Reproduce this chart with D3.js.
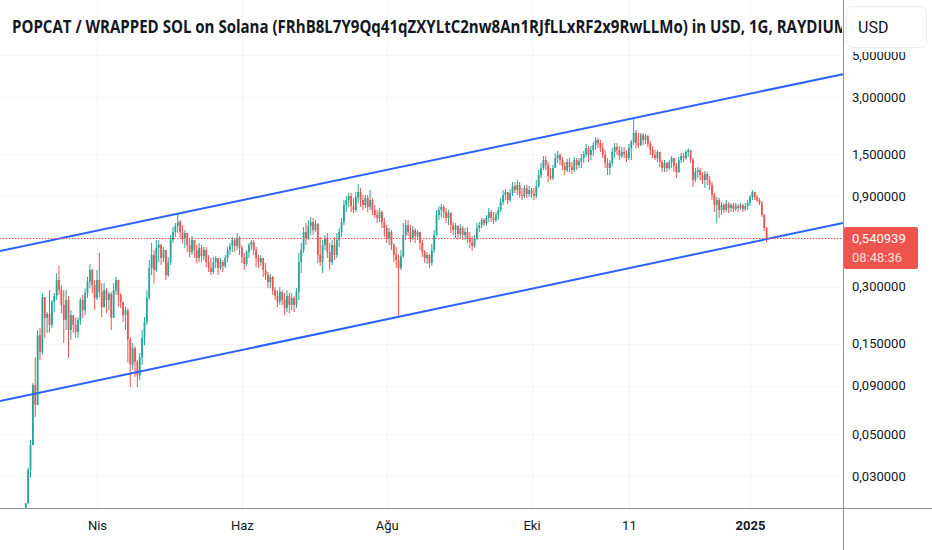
<!DOCTYPE html>
<html>
<head>
<meta charset="utf-8">
<script src="https://cdn.jsdelivr.net/npm/d3@7"></script>
<style>
  body { margin: 0; background: #fff; }
  svg text { font-family: Roboto, "Noto Sans", sans-serif; }
</style>
</head>
<body>
<div id="chart-area"></div>
<script>

// chart data (daily candles, open = previous close)
var chartTitle = "POPCAT / WRAPPED SOL on Solana (FRhB8L7Y9Qq41qZXYLtC2nw8An1RJfLLxRF2x9RwLLMo) in USD, 1G, RAYDIUM";
var firstDay = "2024-03-02";
var firstOpen = 0.0204;

var closes = [
  0.0215, 0.0323, 0.0437, 0.0906, 0.0711, 0.166, 0.135, 0.264, 0.205, 0.215,
  0.188, 0.249, 0.267, 0.325, 0.287, 0.240, 0.200, 0.255, 0.177, 0.212,
  0.188, 0.173, 0.200, 0.255, 0.225, 0.277, 0.317, 0.367, 0.305, 0.261,
  0.325, 0.281, 0.234, 0.287, 0.255, 0.274, 0.205, 0.287, 0.325, 0.271,
  0.249, 0.212, 0.225, 0.157, 0.116, 0.142, 0.120, 0.102, 0.127, 0.161,
  0.195, 0.261, 0.376, 0.440, 0.367, 0.480, 0.497, 0.424, 0.467, 0.345,
  0.404, 0.528, 0.582, 0.626, 0.657, 0.582, 0.541, 0.575, 0.497, 0.456,
  0.528, 0.467, 0.424, 0.480, 0.434, 0.467, 0.404, 0.376, 0.358, 0.404,
  0.424, 0.376, 0.404, 0.385, 0.424, 0.467, 0.491, 0.528, 0.491, 0.541,
  0.480, 0.429, 0.394, 0.456, 0.497, 0.515, 0.467, 0.424, 0.404, 0.424,
  0.367, 0.345, 0.317, 0.337, 0.287, 0.267, 0.249, 0.281, 0.255, 0.231,
  0.267, 0.240, 0.261, 0.240, 0.281, 0.404, 0.467, 0.582, 0.541, 0.626,
  0.657, 0.596, 0.641, 0.440, 0.404, 0.497, 0.541, 0.456, 0.404, 0.497,
  0.440, 0.528, 0.582, 0.657, 0.808, 0.858, 0.901, 0.798, 0.760, 0.890,
  0.946, 0.858, 0.808, 0.880, 0.789, 0.858, 0.760, 0.715, 0.690, 0.742,
  0.657, 0.611, 0.541, 0.582, 0.497, 0.440, 0.414, 0.376, 0.434, 0.561,
  0.633, 0.582, 0.541, 0.596, 0.554, 0.582, 0.509, 0.456, 0.424, 0.440,
  0.399, 0.467, 0.561, 0.715, 0.760, 0.789, 0.742, 0.690, 0.733, 0.633,
  0.596, 0.626, 0.568, 0.611, 0.561, 0.582, 0.541, 0.515, 0.491, 0.541,
  0.611, 0.633, 0.673, 0.649, 0.690, 0.742, 0.690, 0.673, 0.715, 0.760,
  0.838, 0.912, 0.946, 0.858, 0.935, 1.017, 0.969, 1.030, 0.912, 0.901,
  0.993, 0.923, 0.969, 0.923, 0.901, 1.017, 1.163, 1.266, 1.395, 1.313,
  1.149, 1.121, 1.266, 1.430, 1.483, 1.395, 1.297, 1.236, 1.362, 1.281,
  1.236, 1.395, 1.313, 1.378, 1.430, 1.501, 1.614, 1.483, 1.576, 1.674,
  1.779, 1.715, 1.614, 1.483, 1.345, 1.266, 1.345, 1.538, 1.634, 1.576,
  1.465, 1.538, 1.501, 1.430, 1.614, 1.736, 1.937, 1.715, 1.674, 1.890,
  1.779, 1.867, 1.695, 1.576, 1.483, 1.430, 1.538, 1.362, 1.266, 1.345,
  1.266, 1.362, 1.430, 1.297, 1.206, 1.395, 1.465, 1.430, 1.538, 1.576,
  1.395, 1.094, 1.206, 1.236, 1.163, 1.094, 1.177, 1.094, 1.030, 0.912,
  0.808, 0.858, 0.760, 0.808, 0.760, 0.818, 0.779, 0.808, 0.770, 0.798,
  0.779, 0.808, 0.770, 0.798, 0.828, 0.890, 0.946, 0.890, 0.858, 0.828,
  0.715, 0.611, 0.540939
];

var highs = [
  0.0216, 0.0333, 0.0465, 0.0928, 0.127, 0.177, 0.181, 0.277, 0.264, 0.220,
  0.287, 0.255, 0.277, 0.353, 0.385, 0.305, 0.287, 0.287, 0.267, 0.225,
  0.212, 0.205, 0.207, 0.261, 0.271, 0.294, 0.337, 0.394, 0.372, 0.325,
  0.367, 0.451, 0.313, 0.313, 0.294, 0.281, 0.280, 0.313, 0.337, 0.325,
  0.277, 0.249, 0.234, 0.230, 0.163, 0.151, 0.145, 0.123, 0.134, 0.177,
  0.207, 0.287, 0.414, 0.509, 0.467, 0.528, 0.528, 0.505, 0.485, 0.467,
  0.429, 0.561, 0.618, 0.649, 0.733, 0.673, 0.633, 0.596, 0.575, 0.541,
  0.554, 0.528, 0.497, 0.509, 0.497, 0.485, 0.485, 0.440, 0.424, 0.429,
  0.434, 0.424, 0.424, 0.414, 0.440, 0.485, 0.509, 0.548, 0.541, 0.575,
  0.554, 0.497, 0.451, 0.467, 0.509, 0.528, 0.528, 0.485, 0.440, 0.440,
  0.424, 0.399, 0.358, 0.349, 0.341, 0.298, 0.287, 0.298, 0.287, 0.277,
  0.287, 0.277, 0.277, 0.267, 0.294, 0.451, 0.509, 0.618, 0.649, 0.673,
  0.698, 0.690, 0.673, 0.649, 0.548, 0.528, 0.561, 0.575, 0.509, 0.528,
  0.548, 0.575, 0.611, 0.690, 0.858, 0.901, 0.935, 0.935, 0.880, 0.946,
  1.042, 0.993, 0.912, 0.912, 0.912, 0.969, 0.880, 0.808, 0.760, 0.779,
  0.760, 0.690, 0.633, 0.611, 0.596, 0.509, 0.485, 0.440, 0.467, 0.649,
  0.673, 0.673, 0.633, 0.626, 0.611, 0.596, 0.582, 0.528, 0.467, 0.456,
  0.445, 0.503, 0.596, 0.760, 0.798, 0.818, 0.808, 0.779, 0.760, 0.745,
  0.657, 0.649, 0.633, 0.641, 0.626, 0.611, 0.618, 0.582, 0.554, 0.561,
  0.649, 0.657, 0.690, 0.690, 0.715, 0.779, 0.760, 0.742, 0.742, 0.789,
  0.880, 0.969, 0.981, 0.946, 0.981, 1.068, 1.068, 1.094, 1.068, 0.993,
  1.030, 1.030, 1.017, 0.993, 0.993, 1.094, 1.236, 1.345, 1.465, 1.465,
  1.362, 1.266, 1.313, 1.519, 1.557, 1.519, 1.447, 1.362, 1.413, 1.430,
  1.362, 1.447, 1.430, 1.430, 1.501, 1.557, 1.695, 1.654, 1.654, 1.736,
  1.845, 1.823, 1.779, 1.715, 1.576, 1.430, 1.395, 1.614, 1.715, 1.715,
  1.654, 1.634, 1.634, 1.576, 1.695, 1.779, 2.320, 2.009, 1.937, 1.937,
  1.937, 1.914, 1.890, 1.758, 1.654, 1.576, 1.576, 1.538, 1.395, 1.395,
  1.362, 1.395, 1.465, 1.430, 1.345, 1.447, 1.519, 1.519, 1.576, 1.614,
  1.576, 1.430, 1.266, 1.281, 1.266, 1.206, 1.221, 1.206, 1.149, 1.068,
  0.935, 0.890, 0.880, 0.838, 0.828, 0.858, 0.838, 0.828, 0.828, 0.828,
  0.818, 0.828, 0.818, 0.828, 0.858, 0.912, 0.969, 0.946, 0.912, 0.880,
  0.848, 0.724, 0.618
];

var lows = [
  0.0204, 0.0215, 0.0294, 0.0437, 0.0615, 0.0711, 0.123, 0.131, 0.161, 0.171,
  0.171, 0.181, 0.220, 0.255, 0.271, 0.217, 0.151, 0.177, 0.126, 0.157,
  0.171, 0.161, 0.161, 0.188, 0.205, 0.212, 0.261, 0.294, 0.277, 0.225,
  0.255, 0.264, 0.207, 0.231, 0.217, 0.225, 0.177, 0.205, 0.271, 0.234,
  0.231, 0.195, 0.177, 0.119, 0.0884, 0.109, 0.100, 0.0884, 0.0963, 0.116,
  0.147, 0.188, 0.255, 0.345, 0.313, 0.358, 0.404, 0.390, 0.404, 0.325,
  0.337, 0.390, 0.509, 0.548, 0.575, 0.541, 0.509, 0.480, 0.456, 0.429,
  0.440, 0.424, 0.399, 0.404, 0.404, 0.414, 0.380, 0.358, 0.345, 0.349,
  0.376, 0.345, 0.367, 0.358, 0.376, 0.404, 0.440, 0.456, 0.456, 0.467,
  0.440, 0.399, 0.367, 0.385, 0.424, 0.467, 0.440, 0.380, 0.376, 0.385,
  0.337, 0.325, 0.294, 0.294, 0.271, 0.255, 0.234, 0.240, 0.240, 0.212,
  0.220, 0.217, 0.225, 0.220, 0.231, 0.255, 0.353, 0.451, 0.497, 0.528,
  0.561, 0.561, 0.582, 0.399, 0.385, 0.353, 0.467, 0.424, 0.367, 0.390,
  0.414, 0.424, 0.485, 0.548, 0.633, 0.742, 0.789, 0.742, 0.733, 0.742,
  0.828, 0.789, 0.760, 0.779, 0.742, 0.760, 0.715, 0.690, 0.649, 0.657,
  0.611, 0.548, 0.509, 0.497, 0.467, 0.404, 0.376, 0.210, 0.367, 0.424,
  0.528, 0.554, 0.515, 0.528, 0.509, 0.528, 0.467, 0.429, 0.399, 0.394,
  0.376, 0.385, 0.451, 0.554, 0.673, 0.698, 0.690, 0.649, 0.633, 0.575,
  0.561, 0.541, 0.528, 0.541, 0.528, 0.528, 0.509, 0.480, 0.462, 0.480,
  0.528, 0.582, 0.611, 0.626, 0.626, 0.657, 0.657, 0.641, 0.657, 0.673,
  0.742, 0.808, 0.858, 0.818, 0.838, 0.901, 0.935, 0.912, 0.880, 0.858,
  0.880, 0.880, 0.890, 0.880, 0.858, 0.880, 0.993, 1.121, 1.236, 1.236,
  1.068, 1.094, 1.094, 1.266, 1.345, 1.313, 1.236, 1.163, 1.206, 1.206,
  1.177, 1.206, 1.236, 1.266, 1.266, 1.345, 1.447, 1.362, 1.395, 1.465,
  1.576, 1.614, 1.538, 1.430, 1.266, 1.163, 1.163, 1.297, 1.430, 1.483,
  1.395, 1.430, 1.430, 1.362, 1.395, 1.395, 1.674, 1.614, 1.614, 1.654,
  1.674, 1.695, 1.634, 1.483, 1.430, 1.395, 1.362, 1.281, 1.206, 1.206,
  1.206, 1.236, 1.266, 1.206, 1.121, 1.192, 1.345, 1.362, 1.395, 1.447,
  1.345, 1.005, 1.068, 1.121, 1.094, 1.042, 0.993, 1.030, 0.969, 0.858,
  0.742, 0.649, 0.690, 0.715, 0.733, 0.742, 0.733, 0.742, 0.742, 0.751,
  0.742, 0.760, 0.742, 0.751, 0.760, 0.798, 0.858, 0.858, 0.838, 0.808,
  0.698, 0.589, 0.515
];

var lastPrice = 0.540939;
var countdown = "08:48:36";

var xTickDates = ["2024-04-01", "2024-06-01", "2024-08-01", "2024-10-01", "2024-11-11", "2025-01-01"];
var xTickLabels = ["Nis", "Haz", "Ağu", "Eki", "11", "2025"];
var yTickValues = [0.03, 0.05, 0.09, 0.15, 0.3, 0.9, 1.5, 3, 5];

// two anchor points per drawn trend line, extended across the pane
var upperTrendDates = ["2024-05-05", "2024-11-13"];
var upperTrendPrices = [0.7266, 2.324];
var lowerTrendDates = ["2024-04-18", "2024-08-06"];
var lowerTrendPrices = [0.1062, 0.2076];


CandleChart = function(_parentElement) {
  this.parentElement = _parentElement;
  this.initVis();
};

CandleChart.prototype.initVis = function() {
  var vis = this;

  vis.width = 932;
  vis.height = 550;
  vis.paneRight = 843;     // price scale starts here
  vis.paneBottom = 508;    // time scale starts here

  vis.parseDate = d3.utcParse("%Y-%m-%d");

  vis.svg = d3.select("#" + vis.parentElement).append("svg")
    .attr("width", vis.width)
    .attr("height", vis.height)
    .style("display", "block");

  vis.svg.append("rect")
    .attr("width", vis.width).attr("height", vis.height)
    .attr("fill", "#fff");

  // time scale: Apr 1 and Jan 1 placed where the reference puts them
  vis.x = d3.scaleUtc()
    .domain([vis.parseDate("2024-04-01"), vis.parseDate("2025-01-01")])
    .range([97, 750]);

  vis.y = d3.scaleLog()
    .domain([0.02, 5])
    .range([509.4, 55]);

  var defs = vis.svg.append("defs");
  defs.append("clipPath").attr("id", "pane-clip")
    .append("rect").attr("width", vis.paneRight).attr("height", vis.paneBottom);
  defs.append("clipPath").attr("id", "title-clip")
    .append("rect").attr("width", vis.paneRight - 1).attr("height", 60);
  // local coords of the price scale group (it is shifted right by paneRight);
  // the top label sits half under the currency button, as in the app
  defs.append("clipPath").attr("id", "scale-clip")
    .append("rect").attr("x", 0).attr("y", 52)
    .attr("width", 100).attr("height", vis.paneBottom - 52);

  vis.pane = vis.svg.append("g").attr("clip-path", "url(#pane-clip)");

  vis.wrangleData();
};

CandleChart.prototype.wrangleData = function() {
  var vis = this;
  var start = vis.parseDate(firstDay);

  vis.candles = closes.map(function(c, i) {
    return {
      date: d3.utcDay.offset(start, i),
      open: i === 0 ? firstOpen : closes[i - 1],
      high: highs[i],
      low: lows[i],
      close: c
    };
  });

  vis.updateVis();
};

CandleChart.prototype.updateVis = function() {
  var vis = this;
  var up = "#26a69a", down = "#ef5350";

  // faint grid
  vis.pane.append("g").selectAll("line.vgrid")
    .data(xTickDates).enter().append("line")
    .attr("x1", function(d) { return Math.round(vis.x(vis.parseDate(d))) + 0.5; })
    .attr("x2", function(d) { return Math.round(vis.x(vis.parseDate(d))) + 0.5; })
    .attr("y1", 0).attr("y2", vis.paneBottom)
    .attr("stroke", "#f2f4f9");

  vis.pane.append("g").selectAll("line.hgrid")
    .data(yTickValues).enter().append("line")
    .attr("x1", 0).attr("x2", vis.paneRight)
    .attr("y1", function(d) { return Math.round(vis.y(d)) + 0.5; })
    .attr("y2", function(d) { return Math.round(vis.y(d)) + 0.5; })
    .attr("stroke", "#f5f7fa");

  // candles
  var candle = vis.pane.append("g").selectAll("g.candle")
    .data(vis.candles).enter().append("g")
    .attr("fill", function(d) { return d.close >= d.open ? up : down; })
    .attr("stroke", function(d) { return d.close >= d.open ? up : down; });

  candle.append("line")
    .attr("x1", function(d) { return vis.x(d.date); })
    .attr("x2", function(d) { return vis.x(d.date); })
    .attr("y1", function(d) { return vis.y(d.high); })
    .attr("y2", function(d) { return vis.y(d.low); })
    .attr("stroke-width", 1);

  candle.append("rect")
    .attr("stroke", "none")
    .attr("x", function(d) { return vis.x(d.date) - 0.9; })
    .attr("width", 1.8)
    .attr("y", function(d) { return vis.y(Math.max(d.open, d.close)); })
    .attr("height", function(d) {
      return Math.max(1, Math.abs(vis.y(d.open) - vis.y(d.close)));
    });

  // trend lines (extended both ways)
  function trendLine(dates, prices) {
    var x1 = vis.x(vis.parseDate(dates[0])), y1 = vis.y(prices[0]);
    var x2 = vis.x(vis.parseDate(dates[1])), y2 = vis.y(prices[1]);
    var k = (y2 - y1) / (x2 - x1);
    vis.pane.append("line")
      .attr("x1", 0).attr("y1", y1 - k * x1)
      .attr("x2", vis.paneRight).attr("y2", y1 + k * (vis.paneRight - x1))
      .attr("stroke", "#2962ff")
      .attr("stroke-width", 2);
  }
  trendLine(upperTrendDates, upperTrendPrices);
  trendLine(lowerTrendDates, lowerTrendPrices);

  // last price line
  var yLast = vis.y(lastPrice);
  vis.pane.append("line")
    .attr("x1", 0).attr("x2", vis.paneRight)
    .attr("y1", Math.round(yLast) + 0.5).attr("y2", Math.round(yLast) + 0.5)
    .attr("stroke", down)
    .attr("stroke-dasharray", "1.5,1.5");

  // title, cut by the price scale like in the app
  vis.svg.append("text")
    .attr("clip-path", "url(#title-clip)")
    .attr("x", 12).attr("y", 33)
    .attr("textLength", 836)
    .attr("lengthAdjust", "spacingAndGlyphs")
    .style("font-family", "'Open Sans', 'Noto Sans', sans-serif")
    .style("font-weight", 700)
    .style("font-size", "18px")
    .attr("fill", "#131722")
    .text(chartTitle);

  // price scale
  var trFormat = d3.formatLocale({ decimal: ",", thousands: ".", grouping: [3], currency: ["", ""] }).format(".6f");

  var yAxis = d3.axisRight(vis.y)
    .tickValues(yTickValues)
    .tickFormat(trFormat)
    .tickSize(0)
    .tickPadding(9);

  var yAxisG = vis.svg.append("g")
    .attr("clip-path", "url(#scale-clip)")
    .attr("transform", "translate(" + vis.paneRight + ",0)")
    .call(yAxis);
  yAxisG.select(".domain").remove();
  yAxisG.selectAll("text")
    .style("font-family", "Roboto, sans-serif")
    .style("font-size", "13px")
    .attr("fill", "#131722");

  // time scale
  var xAxis = d3.axisBottom(vis.x)
    .tickValues(xTickDates.map(vis.parseDate))
    .tickFormat(function(d, i) { return xTickLabels[i]; })
    .tickSize(0)
    .tickPadding(13);

  var xAxisG = vis.svg.append("g")
    .attr("transform", "translate(0," + vis.paneBottom + ")")
    .call(xAxis);
  xAxisG.select(".domain").remove();
  xAxisG.selectAll("text")
    .style("font-family", "Roboto, sans-serif")
    .style("font-size", "13px")
    .style("font-weight", function(d, i) { return xTickLabels[i] === "2025" ? 700 : 400; })
    .attr("fill", "#131722");

  // scale borders
  vis.svg.append("line")
    .attr("x1", 0).attr("x2", vis.width)
    .attr("y1", vis.paneBottom + 0.5).attr("y2", vis.paneBottom + 0.5)
    .attr("stroke", "#8f9299");
  vis.svg.append("line")
    .attr("x1", vis.paneRight + 0.5).attr("x2", vis.paneRight + 0.5)
    .attr("y1", 0).attr("y2", vis.height)
    .attr("stroke", "#8f9299");

  // last price tag
  var tag = vis.svg.append("g").attr("transform", "translate(" + (vis.paneRight + 1) + "," + (yLast - 11) + ")");
  tag.append("rect")
    .attr("width", 74).attr("height", 42).attr("rx", 2)
    .attr("fill", down);
  tag.append("text")
    .attr("x", 8).attr("y", 16)
    .style("font-size", "13px")
    .attr("fill", "#fff")
    .text(trFormat(lastPrice));
  tag.append("text")
    .attr("x", 8).attr("y", 35)
    .style("font-size", "13px")
    .attr("fill", "#fff").attr("fill-opacity", 0.8)
    .text(countdown);

  // currency button
  vis.svg.append("rect")
    .attr("x", 846.5).attr("y", 6.5)
    .attr("width", 80).attr("height", 41).attr("rx", 6)
    .attr("fill", "#fff")
    .attr("stroke", "#e9ecf2");
  vis.svg.append("text")
    .attr("x", 858).attr("y", 33)
    .style("font-size", "16px")
    .attr("fill", "#131722")
    .text("USD");
};

var chart = new CandleChart("chart-area");
</script>
</body>
</html>
